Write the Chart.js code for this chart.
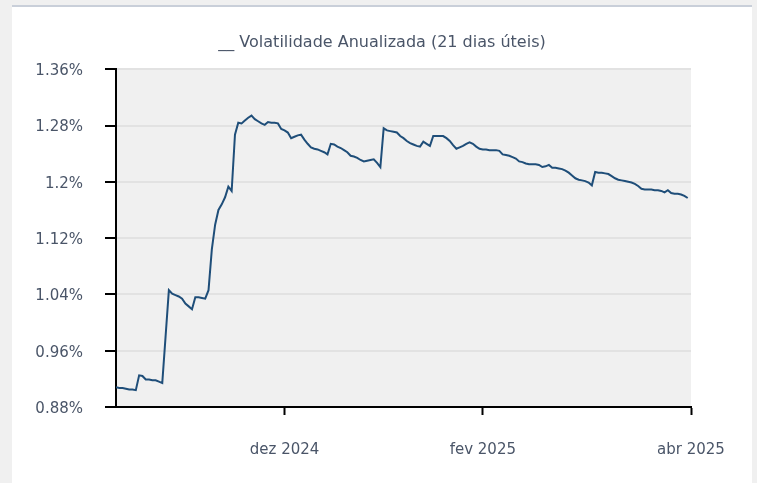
<!doctype html>
<html><head>
<meta charset="utf-8">
<title>Volatilidade</title>
<script src="https://cdn.jsdelivr.net/npm/chart.js"></script>
<style>
  body { margin: 0; background: #f0f0f0; }
  #card {
    position: absolute; left: 12px; top: 5px; width: 740px; height: 478px;
    background: #fff; border-top: 2px solid #c9cfd9;
  }
  #card canvas { display: block; }
</style>
</head>
<body>
<div id="card"><canvas id="volChart" width="740" height="478"></canvas></div>

<script>
// volatilidade anualizada (%), um valor por pregao
const volatilidade = [
  0.908, 0.907, 0.907, 0.906, 0.905, 0.905, 0.904, 0.925, 0.924, 0.919,
  0.919, 0.918, 0.918, 0.916, 0.914, 0.980, 1.046, 1.041, 1.039, 1.037,
  1.034, 1.027, 1.023, 1.019, 1.036, 1.036, 1.035, 1.034, 1.046, 1.104,
  1.139, 1.160, 1.168, 1.178, 1.193, 1.187, 1.267, 1.284, 1.283, 1.287,
  1.291, 1.294, 1.289, 1.286, 1.283, 1.281, 1.285, 1.284, 1.284, 1.283,
  1.275, 1.273, 1.270, 1.262, 1.264, 1.266, 1.267, 1.260, 1.254, 1.249,
  1.247, 1.246, 1.244, 1.242, 1.239, 1.254, 1.253, 1.250, 1.248, 1.245,
  1.242, 1.237, 1.236, 1.234, 1.231, 1.229, 1.230, 1.231, 1.232, 1.227,
  1.221, 1.276, 1.273, 1.272, 1.271, 1.270, 1.265, 1.262, 1.258, 1.255,
  1.253, 1.251, 1.250, 1.257, 1.254, 1.251, 1.265, 1.265, 1.265, 1.265,
  1.262, 1.258, 1.252, 1.247, 1.249, 1.251, 1.254, 1.256, 1.254, 1.250,
  1.247, 1.246, 1.246, 1.245, 1.245, 1.245, 1.244, 1.239, 1.238, 1.237,
  1.235, 1.233, 1.229, 1.228, 1.226, 1.225, 1.225, 1.225, 1.224, 1.221,
  1.222, 1.224, 1.220, 1.220, 1.219, 1.218, 1.216, 1.213, 1.209, 1.205,
  1.203, 1.202, 1.201, 1.199, 1.195, 1.214, 1.213, 1.213, 1.212, 1.211,
  1.208, 1.205, 1.203, 1.202, 1.201, 1.200, 1.199, 1.197, 1.194, 1.190,
  1.189, 1.189, 1.189, 1.188, 1.188, 1.187, 1.185, 1.188, 1.184, 1.183,
  1.183, 1.182, 1.180, 1.177
];

// marcas do eixo x (posicao do pregao) e seus rotulos
const mesPos = [51, 111, 174];
const mesLabels = ['dez 2024', 'fev 2025', 'abr 2025'];

// eixo y
const yMin = 0.88, yMax = 1.36, yStep = 0.08;

const textColor = '#4a5568';
Chart.defaults.font.family = '"DejaVu Sans", sans-serif';
Chart.defaults.color = textColor;

// fundo cinza so na area do grafico
const plotBg = {
  id: 'plotBg',
  beforeDraw(chart) {
    const a = chart.chartArea, ctx = chart.ctx;
    ctx.save();
    ctx.fillStyle = '#f0f0f0';
    ctx.fillRect(a.left, a.top, a.right - a.left, a.bottom - a.top);
    ctx.restore();
  }
};

const ctx = document.getElementById('volChart');
new Chart(ctx, {
  type: 'line',
  data: {
    datasets: [{
      label: 'Volatilidade Anualizada (21 dias úteis)',
      data: volatilidade.map((v, i) => ({ x: i, y: v })),
      borderColor: '#1f4e79',
      borderWidth: 2,
      pointRadius: 0,
      tension: 0,
      fill: false
    }]
  },
  options: {
    responsive: false,
    animation: false,
    layout: { padding: 0 },
    plugins: {
      legend: { display: false },
      tooltip: { enabled: false },
      title: {
        display: true,
        text: '__ Volatilidade Anualizada (21 dias úteis)',
        color: textColor,
        font: { size: 16, weight: 'normal' },
        padding: { top: 26, bottom: 17 }
      }
    },
    scales: {
      x: {
        type: 'linear',
        min: 0,
        max: 174,
        afterBuildTicks(scale) {
          scale.ticks = mesPos.map(p => ({ value: p }));
        },
        // espaco a direita sem deslocar o titulo
        afterFit(scale) { scale.paddingRight = 61; },
        ticks: {
          autoSkip: false,
          maxRotation: 0,
          padding: 26,
          font: { size: 15 },
          callback(value) {
            const k = mesPos.indexOf(value);
            return k >= 0 ? mesLabels[k] : '';
          }
        },
        grid: { drawOnChartArea: false, tickColor: '#000', tickLength: 8, tickWidth: 2 },
        border: { color: '#000', width: 2 }
      },
      y: {
        min: yMin,
        max: yMax,
        afterFit(scale) { scale.width = 104; },
        ticks: {
          stepSize: yStep,
          padding: 22,
          labelOffset: 2,
          font: { size: 15 },
          callback(value) { return parseFloat(value.toFixed(2)) + '%'; }
        },
        grid: { color: '#e2e2e2', lineWidth: 2, tickColor: '#000', tickLength: 11, tickWidth: 2 },
        border: { color: '#000', width: 2 }
      }
    }
  },
  plugins: [plotBg]
});
</script>
</body></html>
